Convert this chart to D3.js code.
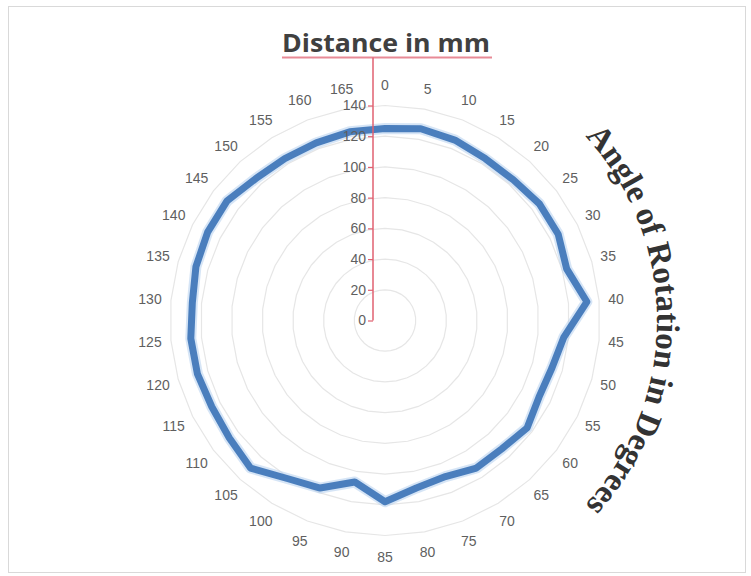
<!DOCTYPE html>
<html><head><meta charset="utf-8">
<script src="https://cdn.jsdelivr.net/npm/d3@7"></script>
<style>html,body{margin:0;padding:0;background:#fff;}svg{display:block;}</style>
</head><body>
<svg id="chart" width="751" height="576"></svg>
<script>
const categories = ["0","5","10","15","20","25","30","35","40","45","50","55","60","65","70","75","80","85","90","95","100","105","110","115","120","125","130","135","140","145","150","155","160","165"];
const distances = [125,127,126,124,124,126,126,123,132,117,113,112,116,113,113,109,111,118,107,117,121,130,127,126,127,127,126,128,129,129,125,124,124,125];
const radialTicks = [0,20,40,60,80,100,120,140];
const titleText = "Distance in mm";
const axisTitleText = "Angle of Rotation in Degrees";

const svg = d3.select("#chart");
const cx = 385, cy = 320.5;

// border
svg.append("rect").attr("x",8.5).attr("y",6.5).attr("width",737).attr("height",566)
  .attr("fill","#fff").attr("stroke","#d9d9d9").attr("stroke-width",1);

const r = d3.scaleLinear().domain([0,140]).range([0,215]);
const ang = d3.scaleLinear().domain([0,categories.length]).range([0,2*Math.PI]);

const g = svg.append("g").attr("transform",`translate(${cx},${cy})`);

// grid rings (polygons)
const ringLine = d3.lineRadial().curve(d3.curveLinearClosed);
radialTicks.filter(t=>t>0).forEach(t=>{
  g.append("path")
    .attr("d", ringLine(categories.map((c,i)=>[ang(i), r(t)])))
    .attr("fill","none").attr("stroke","#e6e6e6").attr("stroke-width",1.2);
});

// data line
const dataLine = d3.lineRadial()
  .angle((d,i)=>ang(i)).radius(d=>r(d)).curve(d3.curveLinearClosed);
g.append("path").datum(distances)
  .attr("d", dataLine)
  .attr("fill","none").attr("stroke","#b4cfee").attr("stroke-width",11).attr("stroke-opacity",0.55)
  .attr("stroke-linejoin","round");
g.append("path").datum(distances)
  .attr("d", dataLine)
  .attr("fill","none").attr("stroke","#4a7ebd").attr("stroke-width",7)
  .attr("stroke-linejoin","round");

// category labels
const labR = 236;
g.selectAll("text.cat").data(categories).enter().append("text")
  .attr("class","cat")
  .attr("x",(d,i)=>{const s=Math.sin(ang(i)); return labR*s - (s>0 ? 4*s : 0);})
  .attr("y",(d,i)=>-labR*Math.cos(ang(i)))
  .attr("text-anchor","middle").attr("dominant-baseline","central")
  .attr("font-family","'Liberation Sans Narrow','Arial Narrow','Liberation Sans',sans-serif")
  .attr("font-size",14).attr("fill","#5f5f5f")
  .text(d=>d);

// title
svg.append("text").attr("x",386).attr("y",52).attr("text-anchor","middle")
  .attr("font-family","'Open Sans','Liberation Sans',sans-serif").attr("font-weight","bold")
  .attr("font-size",25).attr("fill","#404040")
  .attr("textLength",208).attr("lengthAdjust","spacingAndGlyphs")
  .text(titleText);
svg.append("line").attr("x1",282).attr("x2",492).attr("y1",57.5).attr("y2",57.5)
  .attr("stroke","#e88a96").attr("stroke-width",2);

// value axis
const yAxisScale = d3.scaleLinear().domain([0,140]).range([cy, cy - r(140)]);
const axX = 373;
svg.append("line").attr("x1",axX).attr("x2",axX).attr("y1",57.5).attr("y2",cy)
  .attr("stroke","#e06070").attr("stroke-width",1.5);
const ax = svg.append("g").attr("transform",`translate(${axX},0)`)
  .call(d3.axisLeft(yAxisScale).tickValues(radialTicks).tickSize(5).tickPadding(2));
ax.select(".domain").remove();
ax.selectAll(".tick line").attr("stroke","#e06070").attr("stroke-width",1.2);
ax.selectAll(".tick text")
  .attr("font-family","'Liberation Sans Narrow','Arial Narrow','Liberation Sans',sans-serif")
  .attr("font-size",14).attr("fill","#5f5f5f");

// curved axis title
const arcR = 272;
const a0 = 40*Math.PI/180, a1 = 140*Math.PI/180;
const p0 = [cx + arcR*Math.sin(a0), cy - arcR*Math.cos(a0)];
const p1 = [cx + arcR*Math.sin(a1), cy - arcR*Math.cos(a1)];
svg.append("defs").append("path").attr("id","arcPath")
  .attr("d",`M${p0[0]},${p0[1]} A${arcR},${arcR} 0 0 1 ${p1[0]},${p1[1]}`);
svg.append("text")
  .attr("font-family","'Liberation Serif','Times New Roman',serif").attr("font-weight","bold")
  .attr("font-size",33).attr("fill","#333")
  .append("textPath").attr("href","#arcPath").attr("startOffset","50%").attr("text-anchor","middle")
  .text(axisTitleText);
</script>
</body></html>
